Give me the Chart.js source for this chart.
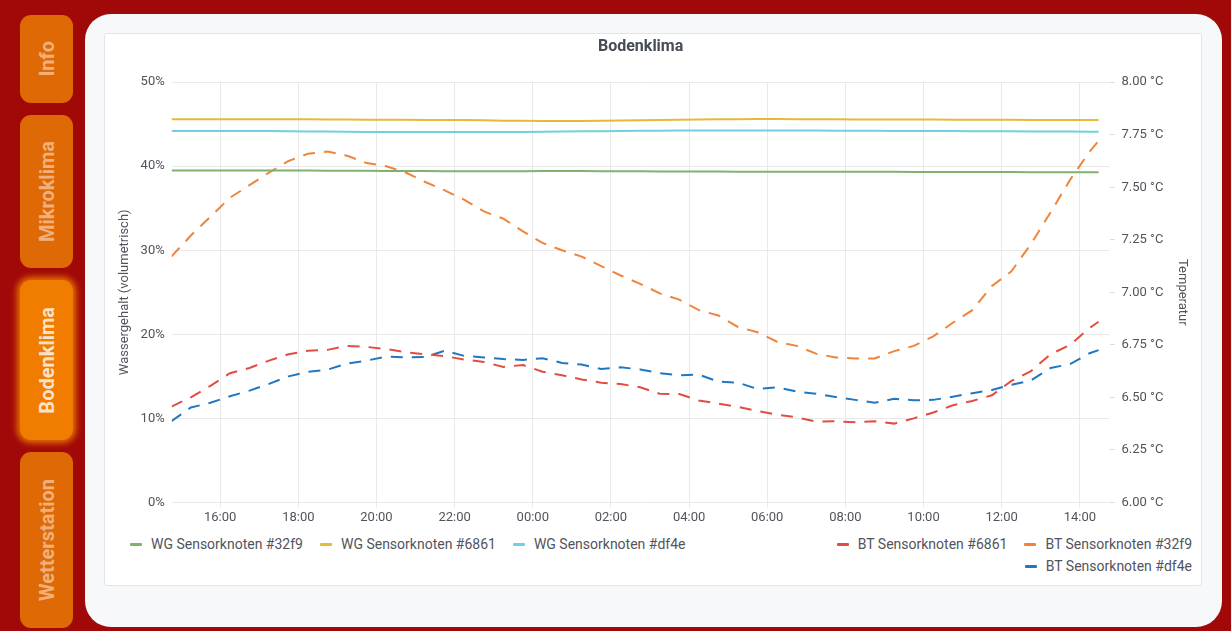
<!DOCTYPE html>
<html>
<head>
<meta charset="utf-8">
<script src="https://cdn.jsdelivr.net/npm/chart.js@4.4.1/dist/chart.umd.min.js"></script>
<style>
  body { margin: 0; width: 1231px; height: 631px; overflow: hidden; background: #a10909; font-family: Roboto, sans-serif; position: relative; }
  .tab { position: absolute; left: 20px; width: 53px; background: #de6905; border-radius: 11px; display: flex; align-items: center; justify-content: center; }
  .tab span { writing-mode: vertical-rl; transform: rotate(180deg); font-weight: bold; font-size: 20px; color: rgba(255, 226, 205, 0.6); }
  .tab.active { background: #f07d00; box-shadow: 0 0 6px 3px rgba(255, 150, 0, 0.75); }
  .tab.active span { color: rgba(255, 240, 228, 0.9); }
  .panel { position: absolute; left: 85px; top: 14px; width: 1137px; height: 613px; background: #f7f8fa; border-radius: 26px; }
  .card { position: absolute; left: 104px; top: 33px; width: 1098px; height: 553px; box-sizing: border-box; background: #fff; border: 1px solid #e2e4e8; border-radius: 3px; }
  #chart { position: absolute; left: 105px; top: 34px; }
  .legend { position: absolute; display: flex; flex-wrap: wrap; font-size: 14px; color: #52545c; line-height: 22px; }
  .legend .item { display: flex; align-items: center; white-space: nowrap; }
  .legend .mark { width: 12px; height: 3px; margin-right: 9px; border-radius: 1px; }
  #legendLeft { left: 130px; top: 533px; }
  #legendLeft .item { margin-right: 17px; }
  #legendRight { right: 39px; top: 533px; width: 385px; justify-content: flex-end; }
  #legendRight .item { margin-left: 17px; }
</style>
</head>
<body>
<div class="tab" style="top:15px;height:88px"><span>Info</span></div>
<div class="tab" style="top:115px;height:153px"><span>Mikroklima</span></div>
<div class="tab active" style="top:280px;height:160px"><span>Bodenklima</span></div>
<div class="tab" style="top:452px;height:176px"><span>Wetterstation</span></div>
<div class="panel"></div>
<div class="card"></div>
<canvas id="chart" width="1095" height="496"></canvas>
<div class="legend" id="legendLeft"></div>
<div class="legend" id="legendRight"></div>
<script>
// Zeit in Stunden ab Mitternacht des ersten Tages (24 = 00:00 am Folgetag)
const times = [14.75, 15.25, 15.75, 16.25, 16.75, 17.25, 17.75, 18.25, 18.75, 19.25,
  19.75, 20.25, 20.75, 21.25, 21.75, 22.25, 22.75, 23.25, 23.75, 24.25,
  24.75, 25.25, 25.75, 26.25, 26.75, 27.25, 27.75, 28.25, 28.75, 29.25,
  29.75, 30.25, 30.75, 31.25, 31.75, 32.25, 32.75, 33.25, 33.75, 34.25,
  34.75, 35.25, 35.75, 36.25, 36.75, 37.25, 37.75, 38.25, 38.48];

const tickHours = [16, 18, 20, 22, 24, 26, 28, 30, 32, 34, 36, 38];
const tickLabels = ['16:00', '18:00', '20:00', '22:00', '00:00', '02:00', '04:00', '06:00', '08:00', '10:00', '12:00', '14:00'];

// Wassergehalt in %
const wg32f9 = [39.5, 39.5, 39.5, 39.5, 39.5, 39.5, 39.49, 39.48, 39.47, 39.46,
  39.45, 39.44, 39.43, 39.42, 39.41, 39.4, 39.4, 39.4, 39.41, 39.42,
  39.42, 39.42, 39.41, 39.4, 39.39, 39.38, 39.37, 39.36, 39.36, 39.35,
  39.35, 39.35, 39.35, 39.35, 39.34, 39.34, 39.33, 39.33, 39.32, 39.32,
  39.31, 39.31, 39.3, 39.3, 39.29, 39.29, 39.28, 39.28, 39.28];
const wg6861 = [45.58, 45.58, 45.58, 45.58, 45.58, 45.58, 45.58, 45.58, 45.55, 45.55,
  45.54, 45.53, 45.52, 45.51, 45.5, 45.49, 45.47, 45.42, 45.4, 45.38,
  45.37, 45.38, 45.4, 45.43, 45.46, 45.49, 45.52, 45.55, 45.58, 45.6,
  45.62, 45.62, 45.6, 45.59, 45.58, 45.57, 45.57, 45.56, 45.56, 45.55,
  45.54, 45.53, 45.52, 45.52, 45.51, 45.5, 45.5, 45.49, 45.49];
const wgdf4e = [44.18, 44.18, 44.18, 44.18, 44.18, 44.18, 44.16, 44.14, 44.12, 44.1,
  44.08, 44.07, 44.06, 44.06, 44.06, 44.06, 44.06, 44.07, 44.08, 44.1,
  44.12, 44.15, 44.17, 44.19, 44.21, 44.23, 44.25, 44.26, 44.26, 44.26,
  44.26, 44.26, 44.25, 44.24, 44.23, 44.22, 44.21, 44.2, 44.19, 44.18,
  44.18, 44.17, 44.16, 44.15, 44.14, 44.13, 44.12, 44.11, 44.1];

// Bodentemperatur in °C
const bt6861 = [6.456, 6.5, 6.555, 6.615, 6.64, 6.675, 6.705, 6.722, 6.726, 6.745,
  6.74, 6.73, 6.715, 6.705, 6.696, 6.68, 6.668, 6.645, 6.654, 6.622,
  6.605, 6.585, 6.57, 6.563, 6.548, 6.517, 6.516, 6.485, 6.47, 6.455,
  6.435, 6.418, 6.405, 6.385, 6.386, 6.382, 6.386, 6.375, 6.4, 6.428,
  6.462, 6.483, 6.51, 6.578, 6.625, 6.705, 6.75, 6.83, 6.86];
const bt32f9 = [7.17, 7.27, 7.36, 7.45, 7.51, 7.57, 7.625, 7.66, 7.67, 7.65,
  7.615, 7.6, 7.57, 7.525, 7.485, 7.44, 7.385, 7.35, 7.29, 7.235,
  7.2, 7.17, 7.125, 7.08, 7.04, 6.995, 6.965, 6.915, 6.89, 6.835,
  6.81, 6.765, 6.745, 6.708, 6.69, 6.685, 6.685, 6.72, 6.745, 6.79,
  6.855, 6.915, 7.03, 7.1, 7.23, 7.38, 7.535, 7.67, 7.72];
const btdf4e = [6.386, 6.452, 6.474, 6.505, 6.532, 6.564, 6.6, 6.622, 6.632, 6.661,
  6.675, 6.694, 6.69, 6.692, 6.722, 6.697, 6.69, 6.682, 6.678, 6.686,
  6.664, 6.656, 6.635, 6.643, 6.633, 6.615, 6.605, 6.608, 6.575, 6.57,
  6.54, 6.548, 6.528, 6.517, 6.502, 6.488, 6.474, 6.493, 6.486, 6.488,
  6.503, 6.52, 6.535, 6.56, 6.58, 6.64, 6.658, 6.71, 6.725];

const toPoints = vals => vals.map((v, i) => ({ x: times[i], y: v }));

const wgSeries = [
  { label: 'WG Sensorknoten #32f9', data: wg32f9, color: '#7eb26d' },
  { label: 'WG Sensorknoten #6861', data: wg6861, color: '#eab839' },
  { label: 'WG Sensorknoten #df4e', data: wgdf4e, color: '#6ed0e0' }
];
const btSeries = [
  { label: 'BT Sensorknoten #6861', data: bt6861, color: '#e24d42' },
  { label: 'BT Sensorknoten #32f9', data: bt32f9, color: '#ef843c' },
  { label: 'BT Sensorknoten #df4e', data: btdf4e, color: '#1f78c1' }
];

const datasets = [];
wgSeries.forEach(s => datasets.push({
  label: s.label, data: toPoints(s.data), yAxisID: 'yWG',
  borderColor: s.color, borderWidth: 2, pointRadius: 0, tension: 0
}));
btSeries.forEach(s => datasets.push({
  label: s.label, data: toPoints(s.data), yAxisID: 'yBT',
  borderColor: s.color, borderWidth: 2, borderDash: [12, 9], pointRadius: 0, tension: 0
}));

Chart.defaults.font.family = 'Roboto';
Chart.defaults.font.size = 13;
Chart.defaults.color = '#52545c';

const gridColor = '#e9e9e9';

new Chart(document.getElementById('chart'), {
  type: 'line',
  data: { datasets: datasets },
  options: {
    responsive: false,
    animation: false,
    layout: { padding: { left: 8, right: 7, top: 0, bottom: 1 } },
    plugins: {
      legend: { display: false },
      tooltip: { enabled: false },
      title: {
        display: true, fullSize: false, text: 'Bodenklima', color: '#464c54',
        font: { size: 16, weight: 'bold' },
        padding: { top: 3, bottom: 26 }
      }
    },
    scales: {
      x: {
        type: 'linear', min: 14.76, max: 38.76,
        afterBuildTicks: scale => { scale.ticks = tickHours.map(v => ({ value: v })); },
        ticks: { callback: (v, i) => tickLabels[i], maxRotation: 0, padding: 3 },
        grid: { color: gridColor, tickLength: 5 },
        border: { display: false }
      },
      yWG: {
        position: 'left', min: 0, max: 50,
        ticks: { stepSize: 10, padding: 7, callback: v => v + '%' },
        grid: { color: gridColor, drawTicks: false },
        border: { display: false },
        title: { display: true, text: 'Wassergehalt (volumetrisch)', font: { size: 13 }, padding: { top: 4, bottom: 1 } }
      },
      yBT: {
        position: 'right', min: 6, max: 8,
        ticks: { stepSize: 0.25, padding: 7, callback: v => v.toFixed(2) + ' °C' },
        grid: { drawOnChartArea: false, tickLength: 5, color: '#d8d9dc' },
        border: { display: false },
        title: { display: true, text: 'Temperatur', font: { size: 13 }, padding: { top: 3, bottom: 4 } }
      }
    }
  }
});

function buildLegend(el, series) {
  series.forEach(s => {
    const item = document.createElement('div');
    item.className = 'item';
    const mark = document.createElement('span');
    mark.className = 'mark';
    mark.style.background = s.color;
    const txt = document.createElement('span');
    txt.textContent = s.label;
    item.appendChild(mark);
    item.appendChild(txt);
    el.appendChild(item);
  });
}
buildLegend(document.getElementById('legendLeft'), wgSeries);
buildLegend(document.getElementById('legendRight'), btSeries);
</script>
</body>
</html>
